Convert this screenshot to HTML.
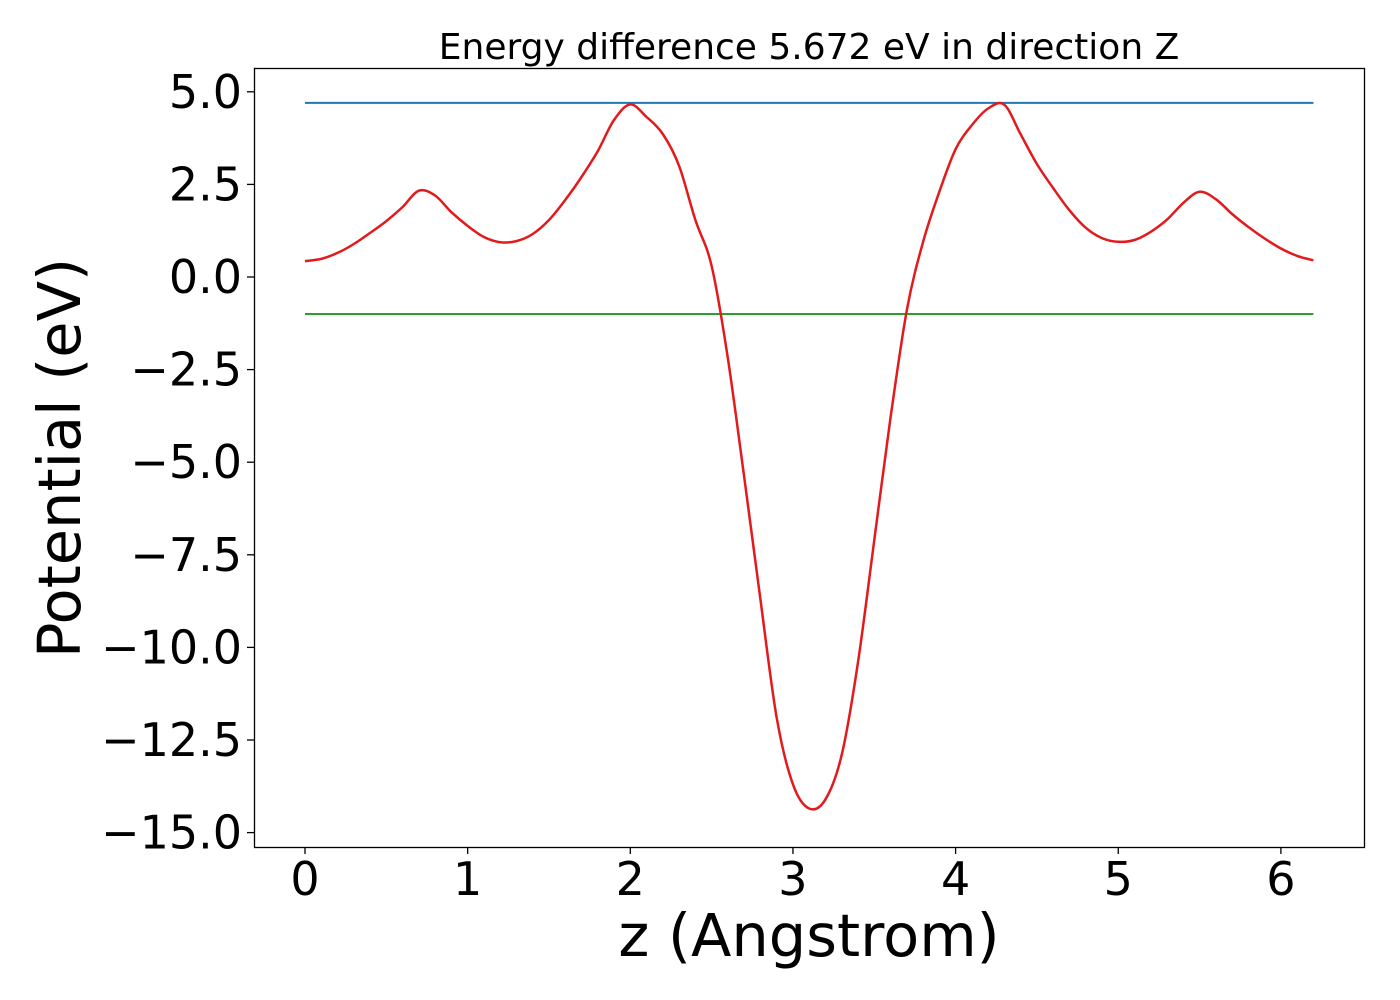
<!DOCTYPE html>
<html><head><meta charset="utf-8"><style>
html,body{margin:0;padding:0;background:#fff;}
svg{display:block;font-family:"DejaVu Sans","Liberation Sans",sans-serif;}
</style></head><body>
<svg id="chart" width="1400" height="1000" viewBox="0 0 1400 1000" xmlns="http://www.w3.org/2000/svg">
<rect x="0" y="0" width="1400" height="1000" fill="#fff"/>
<text x="809" y="59" font-size="36" text-anchor="middle">Energy difference 5.672 eV in direction Z</text>
<g id="plot"></g>
<rect x="254.5" y="68.5" width="1110" height="779" fill="none" stroke="#000" stroke-width="1.3"/>
<text x="809" y="956" font-size="59" text-anchor="middle">z (Angstrom)</text>
<text transform="translate(80,458) rotate(-90)" font-size="59" text-anchor="middle">Potential (eV)</text>
</svg>
<script>
const zValues = [0,0.1,0.2,0.3,0.4,0.5,0.6,0.7,0.8,0.9,1.0,1.1,1.2,1.3,1.4,1.5,1.6,1.7,1.8,1.9,2.0,2.1,2.2,2.3,2.4,2.5,2.6,2.7,2.8,2.9,3.0,3.1,3.2,3.3,3.4,3.5,3.6,3.7,3.8,3.9,4.0,4.1,4.2,4.3,4.4,4.5,4.6,4.7,4.8,4.9,5.0,5.1,5.2,5.3,5.4,5.5,5.6,5.7,5.8,5.9,6.0,6.1,6.2];
const potential = [0.43,0.49,0.65,0.89,1.19,1.51,1.89,2.33,2.2,1.75,1.38,1.08,0.94,0.97,1.16,1.54,2.08,2.7,3.4,4.24,4.66,4.32,3.86,3.0,1.54,0.3,-2.2,-5.4,-8.7,-11.9,-13.7,-14.35,-14.1,-12.9,-10.4,-7.1,-3.8,-0.9,0.95,2.3,3.45,4.1,4.55,4.65,3.85,3.05,2.4,1.8,1.33,1.05,0.95,1.0,1.22,1.55,2.0,2.3,2.1,1.7,1.35,1.04,0.77,0.57,0.45];
const maxLevel = 4.70;
const minLevel = -1.0;
const xTicks = [0,1,2,3,4,5,6];
const xTickLabels = ["0","1","2","3","4","5","6"];
const yTicks = [5,2.5,0,-2.5,-5,-7.5,-10,-12.5,-15];
const yTickLabels = ["5.0","2.5","0.0","\u22122.5","\u22125.0","\u22127.5","\u221210.0","\u221212.5","\u221215.0"];

const NS = "http://www.w3.org/2000/svg";
const X = v => 305 + v * 162.65;
const Y = v => 277 - v * 37.04;
const g = document.getElementById('plot');
function mk(tag, attrs){const e=document.createElementNS(NS,tag);for(const k in attrs)e.setAttribute(k,attrs[k]);g.appendChild(e);return e;}

xTicks.forEach((t,i)=>{
  const tk = mk('line',{x1:X(t),x2:X(t),y1:847,y2:854,stroke:'#000','stroke-width':1.3});
  
  
  const lb = mk('text',{x:X(t),y:895,'font-size':46,'text-anchor':'middle'});
  lb.textContent = xTickLabels[i];
  
  
});
yTicks.forEach((t,i)=>{
  const tk = mk('line',{x1:247,x2:254,y1:Y(t),y2:Y(t),stroke:'#000','stroke-width':1.3});
  
  
  const lb = mk('text',{x:242,y:Y(t)+16,'font-size':46,'text-anchor':'end'});
  lb.textContent = yTickLabels[i];
  
  
});

const x0 = X(zValues[0]), x1 = X(zValues[zValues.length-1]);
const blue = mk('line',{x1:x0,x2:x1,y1:Y(maxLevel),y2:Y(maxLevel),stroke:'#1f77b4','stroke-width':2});


const green = mk('line',{x1:x0,x2:x1,y1:Y(minLevel),y2:Y(minLevel),stroke:'#2ca02c','stroke-width':2});



const pts = zValues.map((z,i)=>[X(z),Y(potential[i])]);
let d = 'M'+pts[0][0].toFixed(1)+','+pts[0][1].toFixed(1);
for(let i=0;i<pts.length-1;i++){
  const p0=pts[Math.max(0,i-1)],p1=pts[i],p2=pts[i+1],p3=pts[Math.min(pts.length-1,i+2)];
  const c1x=p1[0]+(p2[0]-p0[0])/6,c1y=p1[1]+(p2[1]-p0[1])/6;
  const c2x=p2[0]-(p3[0]-p1[0])/6,c2y=p2[1]-(p3[1]-p1[1])/6;
  d+=' C'+c1x.toFixed(1)+','+c1y.toFixed(1)+' '+c2x.toFixed(1)+','+c2y.toFixed(1)+' '+p2[0].toFixed(1)+','+p2[1].toFixed(1);
}
const red = mk('path',{d:d,fill:'none',stroke:'#e31a1c','stroke-width':2.5,'stroke-linejoin':'round'});


</script>
</body></html>
